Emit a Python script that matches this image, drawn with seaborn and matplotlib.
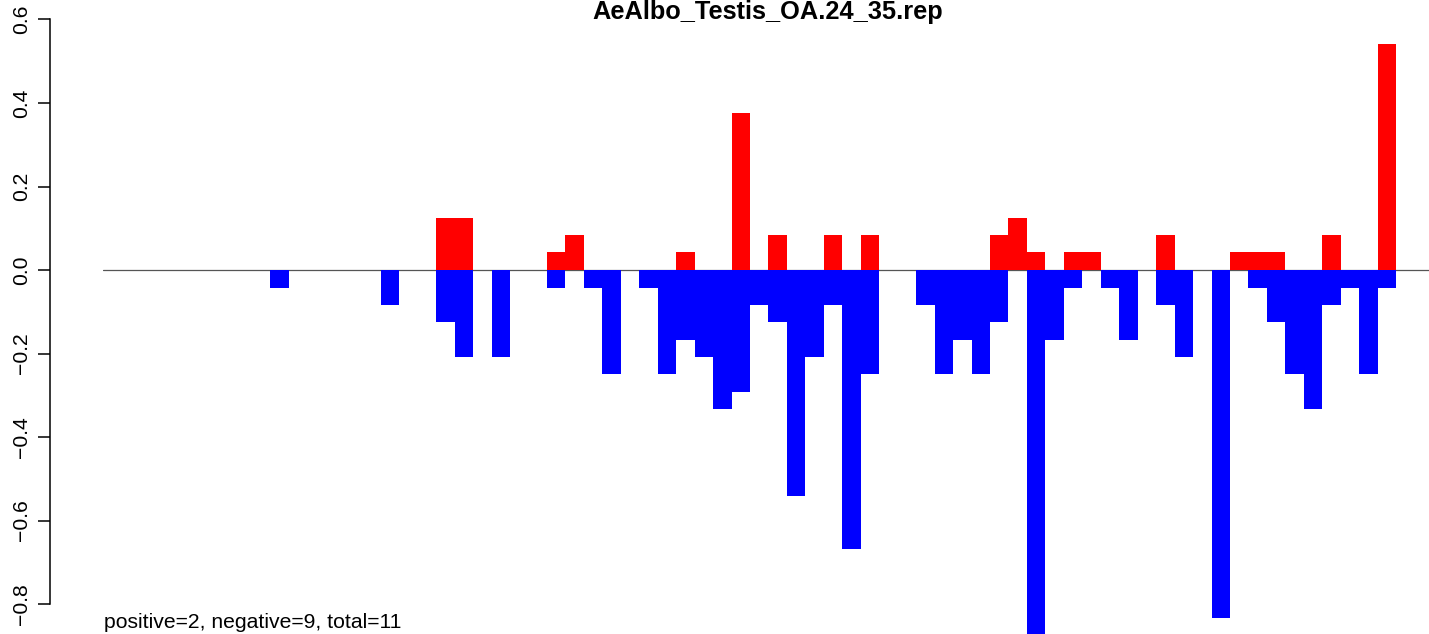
import numpy as np
import pandas as pd
import matplotlib
matplotlib.use('Agg')
import matplotlib.pyplot as plt
import seaborn as sns

# one slot per bin, bars drawn edge to edge (R barplot style, space=0)
bins = list(range(61))

positive = [0, 0, 0, 0, 0, 0, 0, 0, 0, 0.125,
            0.125, 0, 0, 0, 0, 0.042, 0.083, 0, 0, 0,
            0, 0, 0.042, 0, 0, 0.375, 0, 0.083, 0, 0,
            0.083, 0, 0.083, 0, 0, 0, 0, 0, 0, 0.083,
            0.125, 0.042, 0, 0.042, 0.042, 0, 0, 0, 0.083, 0,
            0, 0, 0.042, 0.042, 0.042, 0, 0, 0.083, 0, 0,
            0.542]

negative = [-0.042, 0, 0, 0, 0, 0, -0.083, 0, 0, -0.125,
            -0.208, 0, -0.208, 0, 0, -0.042, 0, -0.042, -0.25, 0,
            -0.042, -0.25, -0.167, -0.208, -0.333, -0.292, -0.083, -0.125, -0.542, -0.208,
            -0.083, -0.667, -0.25, 0, 0, -0.083, -0.25, -0.167, -0.25, -0.125,
            0, -0.875, -0.167, -0.042, 0, -0.042, -0.167, 0, -0.083, -0.208,
            0, -0.833, 0, -0.042, -0.125, -0.25, -0.333, -0.083, -0.042, -0.25,
            -0.042]

title = 'AeAlbo_Testis_OA.24_35.rep'
note = 'positive=2, negative=9, total=11'
yticks = [-0.8, -0.6, -0.4, -0.2, 0.0, 0.2, 0.4, 0.6]

df = pd.DataFrame({'bin': bins, 'positive': positive, 'negative': negative})

#%%
sns.set_style('white')
plt.rcParams['font.family'] = ['Liberation Sans', 'DejaVu Sans']
plt.rcParams['text.color'] = 'black'

W, H = 1429, 634
fig = plt.figure(figsize=(W / 100, H / 100), dpi=100)
ax = fig.add_axes([103 / W, 0, 1 - 103 / W, 1])

sns.barplot(data=df, x='bin', y='positive', color='red', saturation=1,
            width=1.0, linewidth=0, errorbar=None, ax=ax)
sns.barplot(data=df, x='bin', y='negative', color='blue', saturation=1,
            width=1.0, linewidth=0, errorbar=None, ax=ax)
ax.axhline(0, color='#555555', lw=0.9, zorder=0.5)

# pixel calibration from the reference
ax.set_xlim(-9.55, 62.28)
ax.set_ylim(-0.8716, 0.6466)

ax.set_xticks([])
ax.set_xlabel('')
ax.set_ylabel('')
ax.set_yticks(yticks)
ax.set_yticklabels([f'{v:.1f}'.replace('-', '\u2212') for v in yticks])
for s in ['top', 'right', 'bottom']:
    ax.spines[s].set_visible(False)
ax.spines['left'].set_position(('outward', 38.2))
ax.spines['left'].set_bounds(-0.8, 0.6)
ax.spines['left'].set_linewidth(1.1)
ax.spines['left'].set_color('black')
ax.tick_params(axis='y', left=True, length=8.9, width=1.1, pad=4.5,
               labelsize=15.2, labelrotation=90, colors='black')
for lab in ax.get_yticklabels():
    lab.set_va('center')
ax.grid(False)

# texts nudged just inside the canvas so nothing gets clipped
fig.text(767.5 / W, 1 - 19.5 / H, title, ha='center', va='baseline',
         fontsize=18.3, fontweight='bold', color='black')
fig.text(104 / W, 1 - 628.5 / H, note, ha='left', va='baseline',
         fontsize=15.2, color='black')

fig.savefig('out.png', dpi=100)
